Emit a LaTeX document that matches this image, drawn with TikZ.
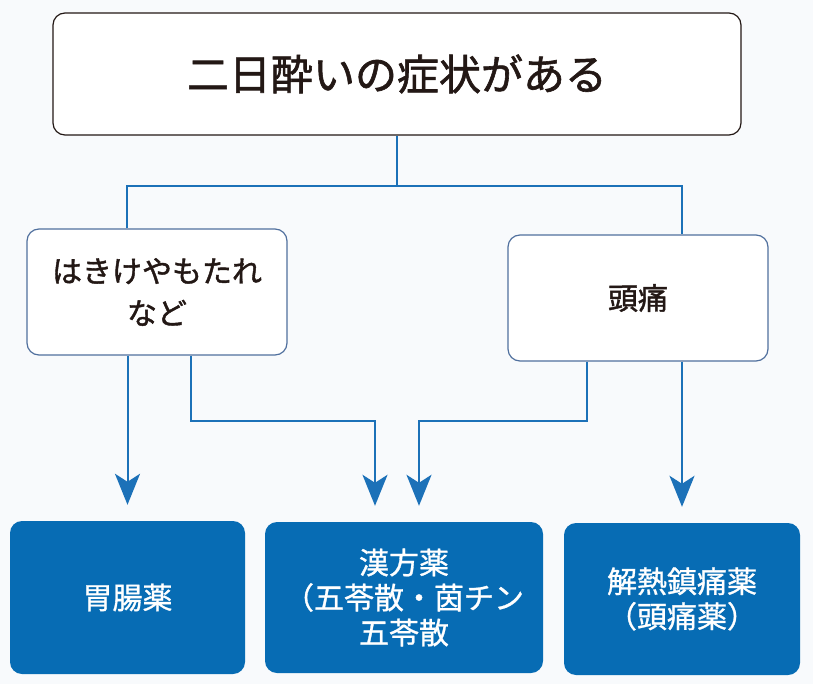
\documentclass[tikz,border=0pt]{standalone}
\usepackage{fontspec}
\newfontfamily\jp{Noto Sans CJK JP}[FakeBold=1.4]
\newfontfamily\jpw{Noto Sans CJK JP}[FakeBold=1.0]
\usetikzlibrary{arrows.meta}
\definecolor{bg}{HTML}{F8FAFC}
\definecolor{kblue}{HTML}{076CB4}
\definecolor{kline}{HTML}{1C71B8}
\definecolor{kedge}{HTML}{50709E}
\definecolor{kink}{HTML}{231815}
\def\elbow{\draw[link,-{Stealth[length=31pt,width=25pt,inset=8pt]},shorten >=16pt]}

\begin{document}
\begin{tikzpicture}[x=1pt,y=-1pt,
    symptom/.style={draw=kedge,line width=1.2pt,fill=white,rounded corners=12pt,align=center,text=kink,font=\jp\fontsize{30}{42}\selectfont},
    remedy/.style={fill=kblue,rounded corners=12pt,align=center,text=white,font=\jpw\fontsize{30}{35}\selectfont},
    link/.style={draw=kline,line width=2pt}]
    \fill[bg] (0,0) rectangle (813,684);
    \node[symptom,draw=kink,minimum width=688pt,minimum height=122pt,font=\jp\fontsize{42}{48}\selectfont] (hangover) at (397,74) {二日酔いの症状がある};
    \node[symptom,minimum width=260pt,minimum height=126pt] (nausea) at (157,292) {はきけやもたれ\\など};
    \node[symptom,minimum width=260pt,minimum height=126pt] (headache) at (638,298) {頭痛};
    \node[remedy,minimum width=235pt,minimum height=153pt] (stomach) at (127.5,597.5) {胃腸薬};
    \node[remedy,minimum width=278pt,minimum height=151pt] (kampo) at (404,597.5) {漢方薬\\（五苓散・茵チン\\五苓散};
    \node[remedy,minimum width=236pt,minimum height=152pt] (analgesic) at (682,599) {解熱鎮痛薬\\（頭痛薬）};
    % branches
    \draw[link] (hangover.south) -- ++(0,50) coordinate (split);
    \draw[link] ([xshift=-30pt]nausea.north) |- (split) -| ([xshift=44pt]headache.north);
    \elbow (stomach.north |- nausea.south) -- (stomach.north);
    \elbow ([xshift=34pt]nausea.south) -- ++(0,65) -| ([xshift=-29pt]kampo.north);
    \elbow ([xshift=-51pt]headache.south) -- ++(0,59) -| ([xshift=15pt]kampo.north);
    \elbow (analgesic.north |- headache.south) -- (analgesic.north);
\end{tikzpicture}
\end{document}
